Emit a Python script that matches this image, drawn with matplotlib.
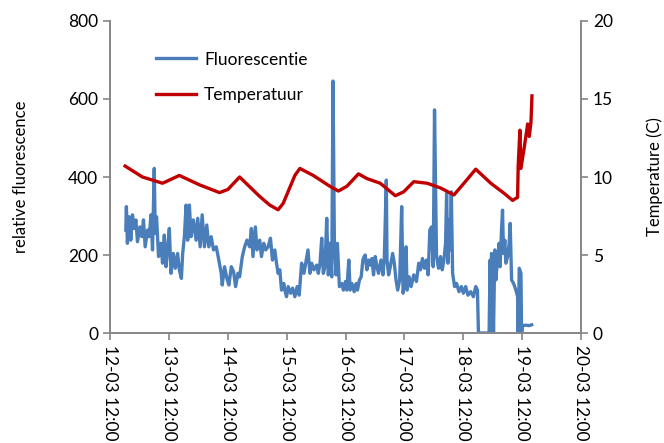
import matplotlib
matplotlib.use("Agg")
import matplotlib.pyplot as plt

plt.rcParams["font.family"] = ["Lato", "DejaVu Sans"]

# days since 12-03 12:00
fluor_t = [0.268, 0.278, 0.295, 0.324, 0.353, 0.381, 0.410, 0.439, 0.466, 0.507, 0.541, 0.568,
           0.597, 0.637, 0.666, 0.695, 0.722, 0.751, 0.768, 0.790, 0.824, 0.865, 0.892, 0.922,
           0.951, 0.978, 1.007, 1.036, 1.075, 1.109, 1.148, 1.177, 1.212, 1.234, 1.263, 1.292,
           1.319, 1.348, 1.377, 1.416, 1.462, 1.490, 1.531, 1.565, 1.604, 1.643, 1.678, 1.718,
           1.758, 1.804, 1.848, 1.889, 1.906, 1.945, 1.985, 2.019, 2.060, 2.099, 2.133, 2.172,
           2.201, 2.247, 2.287, 2.326, 2.372, 2.401, 2.428, 2.469, 2.497, 2.543, 2.572, 2.611,
           2.645, 2.684, 2.725, 2.759, 2.799, 2.828, 2.855, 2.884, 2.913, 2.952, 2.969, 2.998,
           3.026, 3.067, 3.101, 3.140, 3.179, 3.213, 3.254, 3.294, 3.328, 3.362, 3.396, 3.425,
           3.464, 3.510, 3.538, 3.567, 3.596, 3.623, 3.652, 3.681, 3.708, 3.737, 3.766, 3.788,
           3.811, 3.840, 3.862, 3.896, 3.937, 3.964, 3.998, 4.022, 4.056, 4.078, 4.108, 4.147,
           4.181, 4.203, 4.237, 4.266, 4.295, 4.317, 4.334, 4.363, 4.391, 4.420, 4.449, 4.476,
           4.505, 4.534, 4.561, 4.602, 4.636, 4.659, 4.693, 4.705, 4.732, 4.761, 4.800, 4.829,
           4.858, 4.886, 4.920, 4.954, 4.978, 5.005, 5.029, 5.046, 5.080, 5.114, 5.159, 5.205,
           5.244, 5.273, 5.307, 5.341, 5.375, 5.404, 5.432, 5.461, 5.490, 5.512, 5.546, 5.580,
           5.614, 5.643, 5.671, 5.700, 5.717, 5.739, 5.756, 5.773, 5.797, 5.819, 5.853, 5.887,
           5.927, 5.968, 6.002, 6.041, 6.080, 6.126, 6.172, 6.212, 6.241, 6.258, 6.439, 6.456,
           6.468, 6.480, 6.497, 6.514, 6.536, 6.553, 6.582, 6.609, 6.626, 6.650, 6.667, 6.684,
           6.706, 6.724, 6.753, 6.780, 6.797, 6.821, 6.855, 6.894, 6.923, 6.933, 6.951, 6.980,
           6.991, 7.008, 7.065, 7.121, 7.162]
fluor = [264, 324, 230, 298, 238, 303, 268, 290, 234, 272, 247, 290,
         221, 264, 247, 303, 213, 422, 256, 298, 196, 230, 179, 251,
         170, 213, 268, 153, 204, 166, 204, 162, 140, 204, 247, 328,
         238, 328, 247, 290, 238, 294, 221, 303, 221, 277, 221, 247,
         213, 221, 187, 153, 123, 170, 140, 123, 170, 157, 119, 153,
         144, 196, 221, 238, 221, 268, 196, 272, 213, 238, 196, 230,
         213, 221, 243, 187, 213, 179, 153, 162, 110, 127, 110, 93,
         119, 102, 115, 93, 119, 97, 179, 153, 183, 213, 153, 179,
         162, 174, 153, 179, 243, 153, 170, 294, 149, 230, 144, 646,
         230, 149, 230, 119, 127, 110, 132, 110, 187, 110, 127, 106,
         127, 110, 136, 144, 187, 196, 200, 162, 187, 174, 191, 149,
         196, 170, 153, 187, 149, 191, 392, 187, 149, 170, 204, 179,
         136, 110, 136, 324, 102, 127, 221, 110, 144, 119, 149, 132,
         179, 162, 191, 166, 187, 149, 264, 272, 170, 572, 196, 166,
         196, 162, 187, 230, 358, 179, 290, 213, 362, 153, 119, 127,
         106, 119, 102, 119, 97, 106, 93, 119, 110, 0, 0, 187,
         0, 204, 170, 0, 213, 136, 187, 230, 170, 264, 315, 204,
         238, 179, 196, 230, 281, 136, 127, 110, 93, 0, 166, 153,
         0, 19, 20, 19, 21]

temp_t = [0.256, 0.551, 0.892, 1.177, 1.519, 1.860, 2.002, 2.201, 2.543, 2.713, 2.855, 2.940,
          3.140, 3.225, 3.452, 3.737, 3.879, 4.022, 4.220, 4.363, 4.590, 4.846, 4.988, 5.159,
          5.387, 5.614, 5.841, 6.012, 6.212, 6.468, 6.695, 6.838, 6.923, 6.933, 6.962, 6.980,
          7.036, 7.094, 7.121, 7.150, 7.167]
temp = [10.7, 10.0, 9.6, 10.1, 9.5, 9.0, 9.2, 10.0, 8.75, 8.2, 7.9, 8.3,
        10.1, 10.55, 10.1, 9.4, 9.1, 9.4, 10.2, 9.9, 9.6, 8.8, 9.05, 9.7,
        9.6, 9.3, 8.85, 9.6, 10.5, 9.6, 8.95, 8.5, 8.7, 10.7, 13.0, 10.55,
        11.9, 13.4, 12.6, 13.5, 15.2]

day_ticks = [0, 1, 2, 3, 4, 5, 6, 7, 8]
day_labels = ["12-03 12:00", "13-03 12:00", "14-03 12:00", "15-03 12:00", "16-03 12:00",
              "17-03 12:00", "18-03 12:00", "19-03 12:00", "20-03 12:00"]

grey = "#868686"

fig = plt.figure(figsize=(6.64, 4.43), dpi=100)
ax = fig.add_axes([0.1657, 0.2483, 0.7093, 0.7043])
ax2 = ax.twinx()

l1, = ax.plot(fluor_t, fluor, color="#4a7ebb", lw=2.4, label="Fluorescentie")
l2, = ax2.plot(temp_t, temp, color="#c00000", lw=2.4, label="Temperatuur")

ax.set_xlim(0, 8)
ax.set_ylim(0, 800)
ax2.set_ylim(0, 20)
ax.set_yticks([0, 200, 400, 600, 800])
ax2.set_yticks([0, 5, 10, 15, 20])
ax.set_xticks(day_ticks)
ax.set_xticklabels(day_labels, rotation=270, va="top", ha="center")

for a in (ax, ax2):
    a.spines["top"].set_visible(False)
    for s in ("left", "right", "bottom"):
        a.spines[s].set_color(grey)
        a.spines[s].set_linewidth(1.2)
    a.tick_params(colors=grey, labelcolor="black", labelsize=12.5, length=5, width=1.2)

ax.set_ylabel("relative fluorescence", fontsize=12, labelpad=28)
ax2.set_ylabel("Temperature (C)", fontsize=12, labelpad=24)

ax.legend(handles=[l1, l2], loc="upper left", bbox_to_anchor=(0.08, 0.93), frameon=False,
          fontsize=12.5, handlelength=2.3, handletextpad=0.45, labelspacing=1.15, borderpad=0)

fig.savefig("out.png", dpi=100)
